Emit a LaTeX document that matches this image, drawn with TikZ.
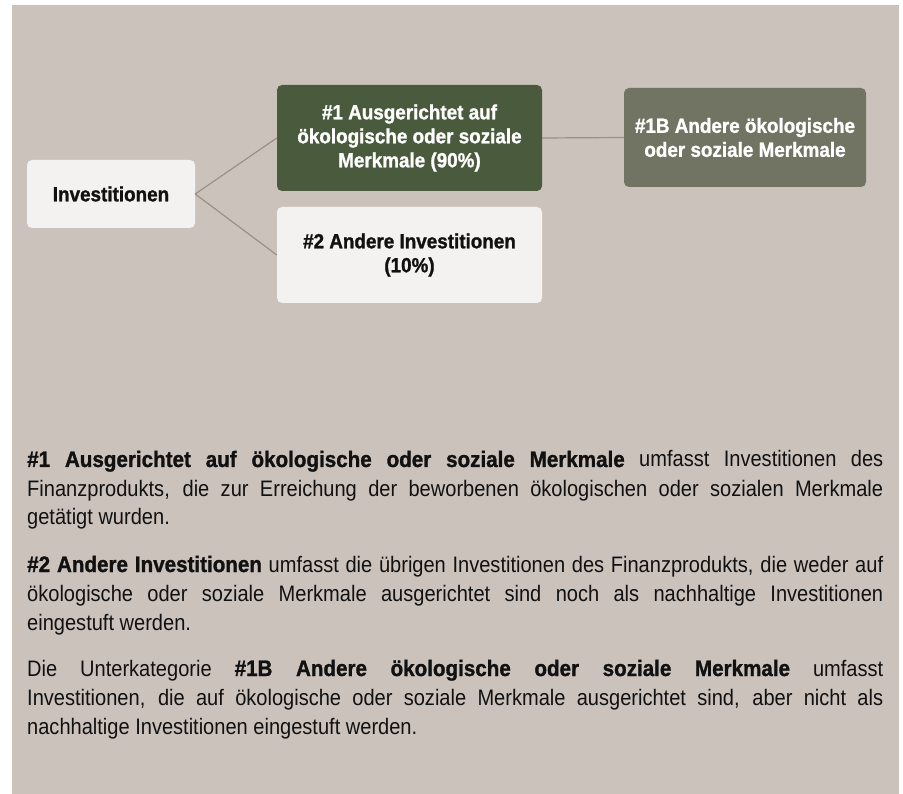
\documentclass[tikz,border=0pt]{standalone}
\usepackage{fontspec}
\setmainfont{Liberation Sans}[FakeStretch=0.895, BoldFeatures={FakeStretch=0.92, FakeBold=1.2}]
\usetikzlibrary{positioning}
\definecolor{hintergrund}{HTML}{CBC2BC}
\definecolor{hellbox}{HTML}{F3F2F0}
\definecolor{dunkelgruen}{HTML}{4A5A3C}
\definecolor{graugruen}{HTML}{717462}
\definecolor{linie}{HTML}{9C8F86}
\definecolor{schrift}{HTML}{111111}
\tikzset{
  kasten/.style={rounded corners=5pt, align=center, inner sep=0pt,
    font=\fontsize{20.5}{24}\selectfont\bfseries},
  hell/.style={kasten, fill=hellbox, text=schrift},
  absatz/.style={anchor=base west, inner sep=0pt, text width=856pt, align=justify,
    text=schrift, font=\fontsize{22.4}{29}\selectfont},
  verbindung/.style={linie, line width=1.2pt}
}
\begin{document}
\begin{tikzpicture}[x=1pt, y=-1pt]
            \useasboundingbox (0,0) rectangle (903,794);
            % hintergrund
            \fill[hintergrund] (12,5) rectangle (899,794);
            % kaesten
            \node[hell, minimum width=168pt, minimum height=68pt] (inv) at (111,194) {Investitionen};
            \node[kasten, fill=dunkelgruen, text=white, minimum width=265pt, minimum height=106pt] (ausg) at (409.5,138) {\#1 Ausgerichtet auf\\ökologische oder soziale\\Merkmale (90\%)};
            \node[hell, minimum width=265pt, minimum height=96pt] (andere) at (409.5,255) {\#2 Andere Investitionen\\(10\%)};
            \node[kasten, fill=graugruen, text=white, minimum width=242pt, minimum height=99pt] (unter) at (745,137.5) {\#1B Andere ökologische\\oder soziale Merkmale};
            % verbindungen
            \draw[verbindung] (inv.east) -- (ausg.west);
            \draw[verbindung] (inv.east) -- (andere.west);
            \draw[verbindung] (ausg.east) -- (unter.west);
            % erlaeuterungen
            \node[absatz] (text1) at (27,467) {\textbf{\#1 Ausgerichtet auf ökologische oder soziale Merkmale} umfasst Investitionen des\linebreak Finanzprodukts, die zur Erreichung der beworbenen ökologischen oder sozialen Merkmale\linebreak getätigt wurden.};
            \node[absatz] (text2) at (27,572) {\textbf{\#2 Andere Investitionen} umfasst die übrigen Investitionen des Finanzprodukts, die weder auf\linebreak ökologische oder soziale Merkmale ausgerichtet sind noch als nachhaltige Investitionen\linebreak eingestuft werden.};
            \node[absatz] (text3) at (27,676) {Die Unterkategorie \textbf{\#1B Andere ökologische oder soziale Merkmale} umfasst\linebreak Investitionen, die auf ökologische oder soziale Merkmale ausgerichtet sind, aber nicht als\linebreak nachhaltige Investitionen eingestuft werden.};
\end{tikzpicture}
\end{document}
